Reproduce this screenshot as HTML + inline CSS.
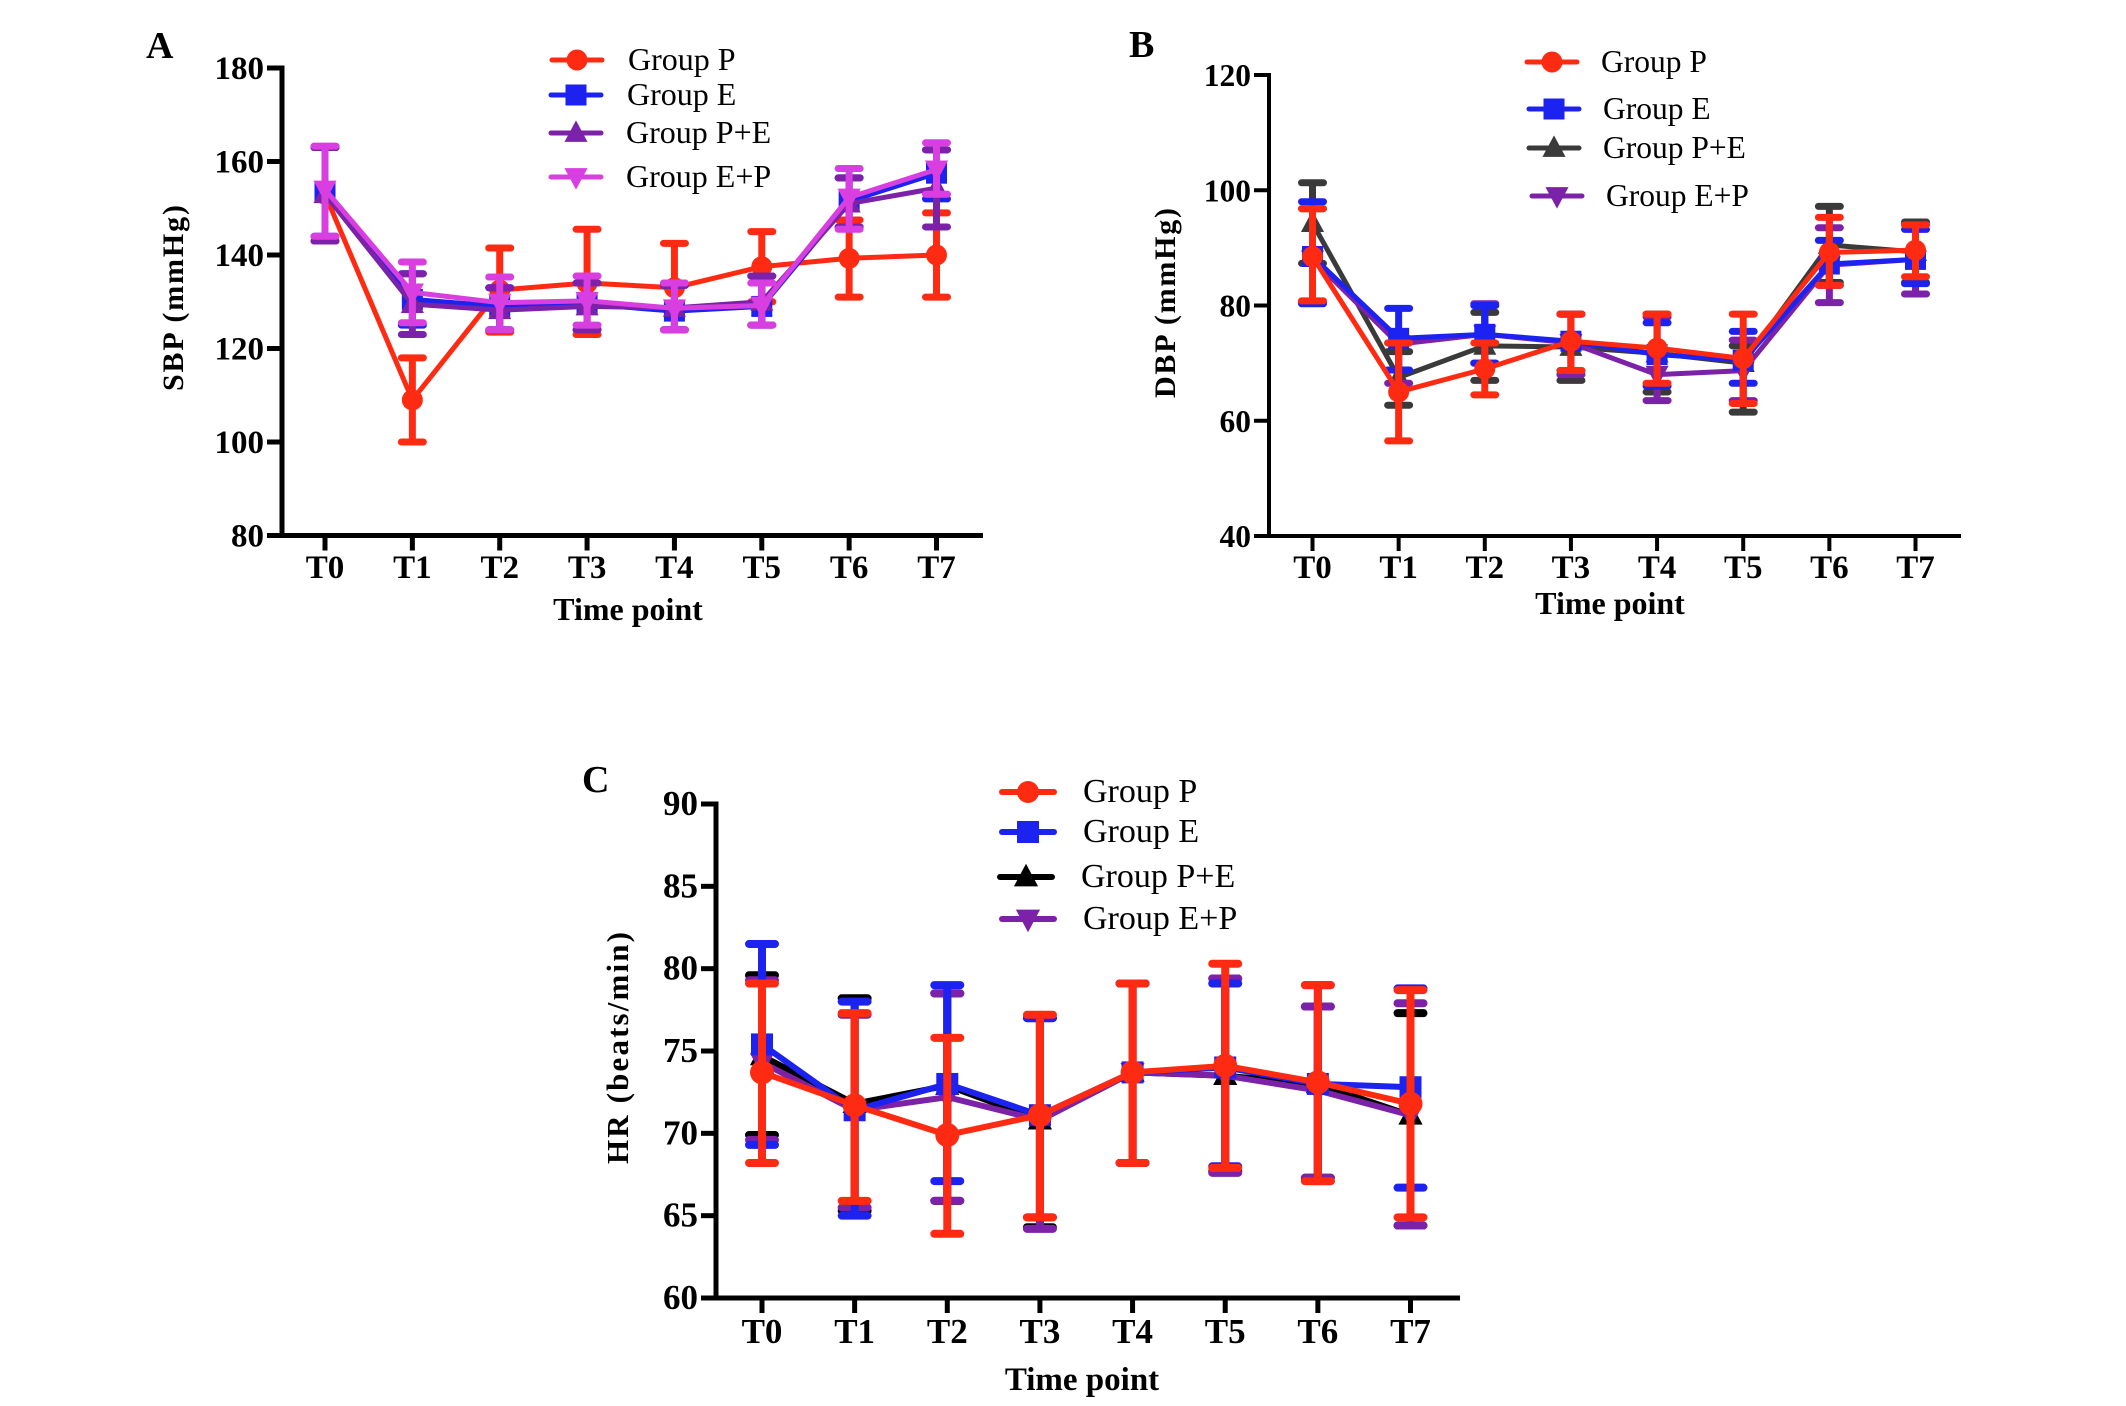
<!DOCTYPE html>
<html lang="en">
<head>
<meta charset="utf-8">
<title>SBP, DBP and HR by time point</title>
<style>
html,body{margin:0;padding:0;background:#fff;width:2126px;height:1406px;overflow:hidden}
svg{display:block}
text{font-family:"Liberation Serif",serif;fill:#000}
.b{font-weight:bold}
</style>
</head>
<body>
<svg id="fig" xmlns="http://www.w3.org/2000/svg" width="2126" height="1406" viewBox="0 0 2126 1406">
<rect x="0" y="0" width="2126" height="1406" fill="#fff"/>
<text class="b" x="146" y="58" font-size="38">A</text>
<text class="b" x="1129" y="57" font-size="38">B</text>
<text class="b" x="582" y="792" font-size="38">C</text>
<text class="b" x="628" y="620" font-size="32" text-anchor="middle">Time point</text>
<text class="b" x="1610" y="614" font-size="32" text-anchor="middle">Time point</text>
<text class="b" x="1082" y="1390" font-size="33" text-anchor="middle">Time point</text>
<text class="b" transform="translate(183,298) rotate(-90)" font-size="30" text-anchor="middle" textLength="186" lengthAdjust="spacing">SBP  (mmHg)</text>
<text class="b" transform="translate(1175,303) rotate(-90)" font-size="30" text-anchor="middle" textLength="190" lengthAdjust="spacing">DBP  (mmHg)</text>
<text class="b" transform="translate(628,1048) rotate(-90)" font-size="31" text-anchor="middle" textLength="232" lengthAdjust="spacing">HR  (beats/min)</text>
</svg>
<script>
var categories = ['T0','T1','T2','T3','T4','T5','T6','T7'];
var groupNames = ['Group P','Group E','Group P+E','Group E+P'];

var aTicks = [80,100,120,140,160,180];
var aPMean = [153,109,132.5,134,133,137.5,139.3,140];
var aPUp   = [163,118,141.5,145.5,142.5,145,147.5,149];
var aPLow  = [143,100,123.5,123,124,130,131,131];
var aEMean = [153.5,130.5,129,129.5,128,129,151.5,157.5];
var aEUp   = [163,136,133,134,133.5,135.5,156.5,162.5];
var aELow  = [144,125,124,124,124,125,146,152];
var aPEMean= [153,129.5,128.2,129,128.7,130,151,154.3];
var aPEUp  = [163,136,133,134,133.5,135.5,156.5,162.5];
var aPELow = [143,123,124,124,124,125,146,146];
var aEPMean= [154,132,129.8,130.2,128.6,129.2,152.3,158.3];
var aEPUp  = [163.3,138.5,135.3,135.5,134,134,158.5,164];
var aEPLow = [144,125.5,124,125,124,125,145.5,153];

var bTicks = [40,60,80,100,120];
var bPMean = [88.5,65,69,73.8,72.6,70.8,89.2,89.6];
var bPUp   = [96.8,73.5,73.5,78.5,78.5,78.5,95.3,94];
var bPLow  = [80.8,56.5,64.5,68.7,66.5,63,83.5,85];
var bEMean = [88.5,74.3,75,73.8,71.5,70.5,87.2,88];
var bEUp   = [98,79.5,80,78.5,77,75.5,91.3,93.2];
var bELow  = [80.3,68.8,70,68.7,66,66.5,83.5,83.8];
var bPEMean= [94.3,67.5,73,72.8,71.7,70,90.5,89.3];
var bPEUp  = [101.3,72,78.8,78.5,78.5,73,97.2,94.5];
var bPELow = [87.3,62.7,67,67,65,61.5,84,84];
var bEPMean= [88,73.3,75,73.5,68,68.7,87,88];
var bEPUp  = [96.8,73.5,80.3,78.5,78,74,93.5,94];
var bEPLow = [80.5,66.5,70,68,63.5,63.5,80.5,82];

var cTicks = [60,65,70,75,80,85,90];
var cPMean = [73.7,71.7,69.9,71.1,73.7,74.1,73.1,71.8];
var cPUp   = [79.1,77.3,75.8,77.2,79.1,80.3,79,78.7];
var cPLow  = [68.2,65.9,63.9,64.9,68.2,67.9,67.1,64.9];
var cEMean = [75.4,71.4,73,71.1,73.7,74,73,72.8];
var cEUp   = [81.5,78,79,77,79.1,79.1,79,78.8];
var cELow  = [69.3,65,67.1,64.9,68.2,68,67.1,66.7];
var cPEMean= [74.7,71.8,72.9,70.8,73.7,73.5,73,71.1];
var cPEUp  = [79.6,78.2,78.5,77,79.1,79.4,77.7,77.3];
var cPELow = [69.9,65.3,65.9,64.3,68.2,67.7,67.3,64.4];
var cEPMean= [74.3,71.4,72.2,70.8,73.7,73.5,72.6,71.1];
var cEPUp  = [79.3,77.2,78.5,77,79.1,79.4,77.7,77.9];
var cEPLow = [69.6,65.5,65.9,64.2,68.2,67.6,67.3,64.4];

var NS = 'http://www.w3.org/2000/svg';
var fig = document.getElementById('fig');
function mk(tag, parent, attrs) {
  var el = document.createElementNS(NS, tag);
  for (var k in attrs) el.setAttribute(k, attrs[k]);
  parent.appendChild(el);
  return el;
}
function drawMarker(parent, shape, cx, cy, r, color, name) {
  var el;
  if (shape === 'circle') {
    el = mk('circle', parent, {cx: cx, cy: cy, r: r, fill: color});
  } else if (shape === 'square') {
    el = mk('rect', parent, {x: cx - r, y: cy - r, width: 2 * r, height: 2 * r, fill: color});
  } else if (shape === 'up') {
    el = mk('polygon', parent, {points: cx + ',' + (cy - r * 1.2) + ' ' + (cx + r * 1.1) + ',' + (cy + r * 0.85) + ' ' + (cx - r * 1.1) + ',' + (cy + r * 0.85), fill: color});
  } else {
    el = mk('polygon', parent, {points: cx + ',' + (cy + r * 1.2) + ' ' + (cx + r * 1.1) + ',' + (cy - r * 0.85) + ' ' + (cx - r * 1.1) + ',' + (cy - r * 0.85), fill: color});
  }
  
  
}
function drawPanel(p) {
  var g = mk('g', fig, {});
  
  
  var n = categories.length;
  function xs(i) { return p.x0 + (p.x1 - p.x0) * i / (n - 1); }
  function ys(v) { return p.yBottom + (p.yTop - p.yBottom) * (v - p.vMin) / (p.vMax - p.vMin); }

  // axes
  var yAxis = mk('line', g, {x1: p.axisX, x2: p.axisX, y1: p.yTop - p.axisW / 2, y2: p.yBottom + p.axisW / 2, stroke: '#000', 'stroke-width': p.axisW});
  
  
  var xAxis = mk('line', g, {x1: p.axisX - 15, x2: p.axisEnd, y1: p.yBottom, y2: p.yBottom, stroke: '#000', 'stroke-width': p.axisW});
  
  

  p.ticks.forEach(function (v) {
    var t = mk('line', g, {x1: p.axisX - 15, x2: p.axisX, y1: ys(v), y2: ys(v), stroke: '#000', 'stroke-width': p.axisW});
    
    
    var lb = mk('text', g, {x: p.axisX - 18, y: ys(v) + 11, 'text-anchor': 'end', 'font-size': p.yFont, 'font-weight': 'bold'});
    lb.textContent = v;
    
    
  });
  categories.forEach(function (c, i) {
    var t = mk('line', g, {x1: xs(i), x2: xs(i), y1: p.yBottom, y2: p.yBottom + 15, stroke: '#000', 'stroke-width': p.axisW});
    
    
    var lb = mk('text', g, {x: xs(i), y: p.xLabelY, 'text-anchor': 'middle', 'font-size': p.xFont, 'font-weight': 'bold'});
    lb.textContent = c;
    
    
  });

  // series
  p.series.forEach(function (s) {
    var sg = mk('g', g, {});
    
    
    for (var i = 0; i < n; i++) {
      var x = xs(i);
      var eb = mk('path', sg, {
        d: 'M' + x + ' ' + ys(s.up[i]) + 'V' + ys(s.low[i]) + 'M' + (x - p.cap) + ' ' + ys(s.up[i]) + 'H' + (x + p.cap) + 'M' + (x - p.cap) + ' ' + ys(s.low[i]) + 'H' + (x + p.cap),
        fill: 'none', stroke: s.color, 'stroke-width': p.errW, 'stroke-linecap': 'round'
      });
      
      
    }
    var pts = s.mean.map(function (v, i) { return xs(i) + ',' + ys(v); }).join(' ');
    var line = mk('polyline', sg, {points: pts, fill: 'none', stroke: s.color, 'stroke-width': p.lineW, 'stroke-linejoin': 'round'});
    
    
    s.mean.forEach(function (v, i) {
      drawMarker(sg, s.shape, xs(i), ys(v), s.r || p.r, s.color, 'point-' + s.key + '-' + categories[i]);
    });
  });

  // legend
  p.legend.forEach(function (L, i) {
    var s = p.series.filter(function (q) { return q.nameIdx === i; })[0];
    var lg = mk('g', g, {});
    
    
    var ll = mk('line', lg, {x1: L.x, x2: L.x + p.legendLen, y1: L.y, y2: L.y, stroke: s.color, 'stroke-width': p.lineW, 'stroke-linecap': 'round'});
    
    
    drawMarker(lg, s.shape, L.x + p.legendLen / 2, L.y, p.r, s.color, 'legend-marker');
    var tx = mk('text', lg, {x: L.tx, y: L.y + 10, 'font-size': p.legendFont});
    tx.textContent = groupNames[i];
    
    
  });
}

var red = '#ff2a12', blue = '#1c22f0', purple = '#7c22a8', magenta = '#d93fe0', dark = '#3a3a3a', black = '#000000';

drawPanel({
  id: 'a', x0: 325, x1: 936.5, axisX: 282, axisEnd: 983, yTop: 68, yBottom: 535.5, vMin: 80, vMax: 180,
  ticks: aTicks, axisW: 5, cap: 11, errW: 7, lineW: 5, r: 10.5, xLabelY: 578, legendLen: 50, yFont: 33, xFont: 33, legendFont: 32,
  series: [
    {key: 'group-p', nameIdx: 0, color: red, shape: 'circle', mean: aPMean, up: aPUp, low: aPLow},
    {key: 'group-e', nameIdx: 1, color: blue, shape: 'square', mean: aEMean, up: aEUp, low: aELow},
    {key: 'group-p-e', nameIdx: 2, color: purple, shape: 'up', mean: aPEMean, up: aPEUp, low: aPELow},
    {key: 'group-e-p', nameIdx: 3, color: magenta, shape: 'down', mean: aEPMean, up: aEPUp, low: aEPLow}
  ],
  legend: [{x: 552, y: 60, tx: 628}, {x: 551, y: 95, tx: 627}, {x: 551, y: 133, tx: 626}, {x: 551, y: 177, tx: 626}]
});

drawPanel({
  id: 'b', x0: 1312.5, x1: 1915.5, axisX: 1269, axisEnd: 1961, yTop: 75, yBottom: 536, vMin: 40, vMax: 120,
  ticks: bTicks, axisW: 4, cap: 11, errW: 7, lineW: 5, r: 10.5, xLabelY: 578, legendLen: 50, yFont: 31.5, xFont: 33, legendFont: 31.5,
  series: [
    {key: 'group-p-e', nameIdx: 2, color: dark, shape: 'up', mean: bPEMean, up: bPEUp, low: bPELow},
    {key: 'group-e-p', nameIdx: 3, color: purple, shape: 'down', mean: bEPMean, up: bEPUp, low: bEPLow},
    {key: 'group-e', nameIdx: 1, color: blue, shape: 'square', mean: bEMean, up: bEUp, low: bELow},
    {key: 'group-p', nameIdx: 0, color: red, shape: 'circle', mean: bPMean, up: bPUp, low: bPLow}
  ],
  legend: [{x: 1527, y: 62, tx: 1601}, {x: 1529, y: 109, tx: 1603}, {x: 1529, y: 148, tx: 1603}, {x: 1532, y: 196, tx: 1606}]
});

drawPanel({
  id: 'c', x0: 762, x1: 1410.5, axisX: 716, axisEnd: 1460, yTop: 804, yBottom: 1298, vMin: 60, vMax: 90,
  ticks: cTicks, axisW: 5, cap: 13, errW: 8, lineW: 6, r: 11, xLabelY: 1343, legendLen: 52, yFont: 35, xFont: 35, legendFont: 34,
  series: [
    {key: 'group-p-e', nameIdx: 2, color: black, shape: 'up', mean: cPEMean, up: cPEUp, low: cPELow},
    {key: 'group-e-p', nameIdx: 3, color: purple, shape: 'down', mean: cEPMean, up: cEPUp, low: cEPLow},
    {key: 'group-e', nameIdx: 1, color: blue, shape: 'square', mean: cEMean, up: cEUp, low: cELow},
    {key: 'group-p', nameIdx: 0, color: red, shape: 'circle', r: 12, mean: cPMean, up: cPUp, low: cPLow}
  ],
  legend: [{x: 1002, y: 792, tx: 1083}, {x: 1002, y: 832, tx: 1083}, {x: 1000, y: 877, tx: 1081}, {x: 1002, y: 919, tx: 1083}]
});
</script>
</body>
</html>
